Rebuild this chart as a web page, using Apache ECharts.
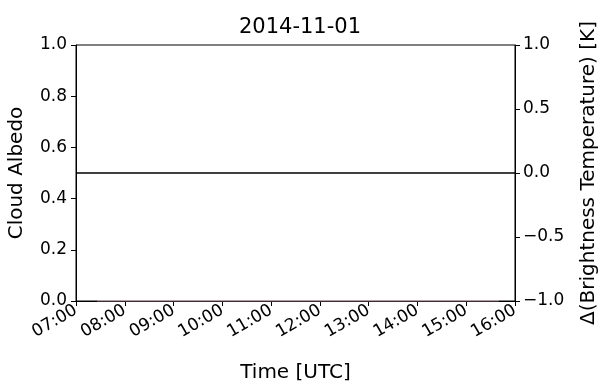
<!DOCTYPE html>
<html>
<head>
<meta charset="utf-8">
<script src="https://cdn.jsdelivr.net/npm/echarts@6/dist/echarts.min.js"></script>
<style>
  html, body { margin: 0; padding: 0; background: #fff; }
  #chart { width: 600px; height: 381px; }
</style>
</head>
<body>
<div id="chart"></div>
<script>
// Day shown and hourly tick labels along the time axis
const dayTitle = '2014-11-01';
const hourTicks = ['07:00', '08:00', '09:00', '10:00', '11:00', '12:00', '13:00', '14:00', '15:00', '16:00'];

// Cloud albedo samples (left axis)
const albedoTimes = ['07:26', '09:00', '11:00', '13:00', '15:00', '15:40'];
const albedoValues = [0, 0, 0, 0, 0, 0];

// Brightness temperature difference (right axis, K)
const deltaTimes = ['07:00', '16:00'];
const deltaValues = [0, 0];

function toHours(t) {
  const [h, m] = t.split(':').map(Number);
  return h + m / 60;
}
function pairs(times, vals) {
  return times.map((t, i) => [toHours(t), vals[i]]);
}

const FONT = 'DejaVu Sans';
const INK = '#000';
const TICK_FS = 17;
const NAME_FS = 20;

const chart = echarts.init(document.getElementById('chart'), null, { renderer: 'canvas' });
chart.setOption({
  animation: false,
  backgroundColor: '#fff',
  textStyle: { fontFamily: FONT, color: INK },
  title: {
    text: dayTitle,
    left: 295, top: 12, textAlign: 'center',
    textStyle: { fontFamily: FONT, fontSize: 21, fontWeight: 'normal', color: INK }
  },
  grid: {
    left: 76, right: 85, top: 45, bottom: 80,
    containLabel: false,
    outerBoundsMode: 'none',
    show: true, borderColor: INK, borderWidth: 1, backgroundColor: 'transparent'
  },
  xAxis: {
    type: 'value',
    min: toHours(hourTicks[0]),
    max: toHours(hourTicks[hourTicks.length - 1]),
    interval: 1,
    name: 'Time [UTC]',
    nameLocation: 'middle',
    nameGap: 62,
    nameTextStyle: { fontFamily: FONT, fontSize: NAME_FS, color: INK },
    axisLine: { show: true, lineStyle: { color: INK, width: 1 } },
    axisTick: { show: true, inside: false, length: 5, lineStyle: { color: INK } },
    splitLine: { show: false },
    axisLabel: {
      rotate: 30, margin: 8, fontFamily: FONT, fontSize: TICK_FS, color: INK,
      formatter: v => hourTicks[Math.round(v - toHours(hourTicks[0]))] || ''
    }
  },
  yAxis: [
    {
      type: 'value', position: 'left',
      min: 0, max: 1, interval: 0.2,
      name: 'Cloud Albedo',
      nameLocation: 'middle', nameRotate: 90, nameGap: 49,
      nameTextStyle: { fontFamily: FONT, fontSize: NAME_FS, color: INK },
      axisLine: { show: true, lineStyle: { color: INK, width: 1 } },
      axisTick: { show: true, inside: false, length: 5, lineStyle: { color: INK } },
      splitLine: { show: false },
      axisLabel: {
        margin: 9, fontFamily: FONT, fontSize: TICK_FS, color: INK,
        formatter: v => v.toFixed(1)
      }
    },
    {
      type: 'value', position: 'right',
      min: -1, max: 1, interval: 0.5,
      name: 'Δ(Brightness Temperature) [K]',
      nameLocation: 'middle', nameRotate: 90, nameGap: 64,
      nameTextStyle: { fontFamily: FONT, fontSize: NAME_FS, color: INK },
      axisLine: { show: true, lineStyle: { color: INK, width: 1 } },
      axisTick: { show: true, inside: false, length: 5, lineStyle: { color: INK } },
      splitLine: { show: false },
      axisLabel: {
        margin: 8, fontFamily: FONT, fontSize: TICK_FS, color: INK,
        formatter: v => (v < 0 ? '\u2212' : '') + Math.abs(v).toFixed(1)
      }
    }
  ],
  series: [
    {
      name: 'Cloud Albedo',
      type: 'line', yAxisIndex: 0,
      data: pairs(albedoTimes, albedoValues),
      symbol: 'none',
      lineStyle: { color: '#e6bcd0', width: 1.2 },
      z: 3
    },
    {
      name: 'Δ Brightness Temperature',
      type: 'line', yAxisIndex: 1,
      data: pairs(deltaTimes, deltaValues),
      symbol: 'none',
      lineStyle: { color: '#000', width: 1.5 },
      z: 4
    }
  ]
});
</script>
</body>
</html>
